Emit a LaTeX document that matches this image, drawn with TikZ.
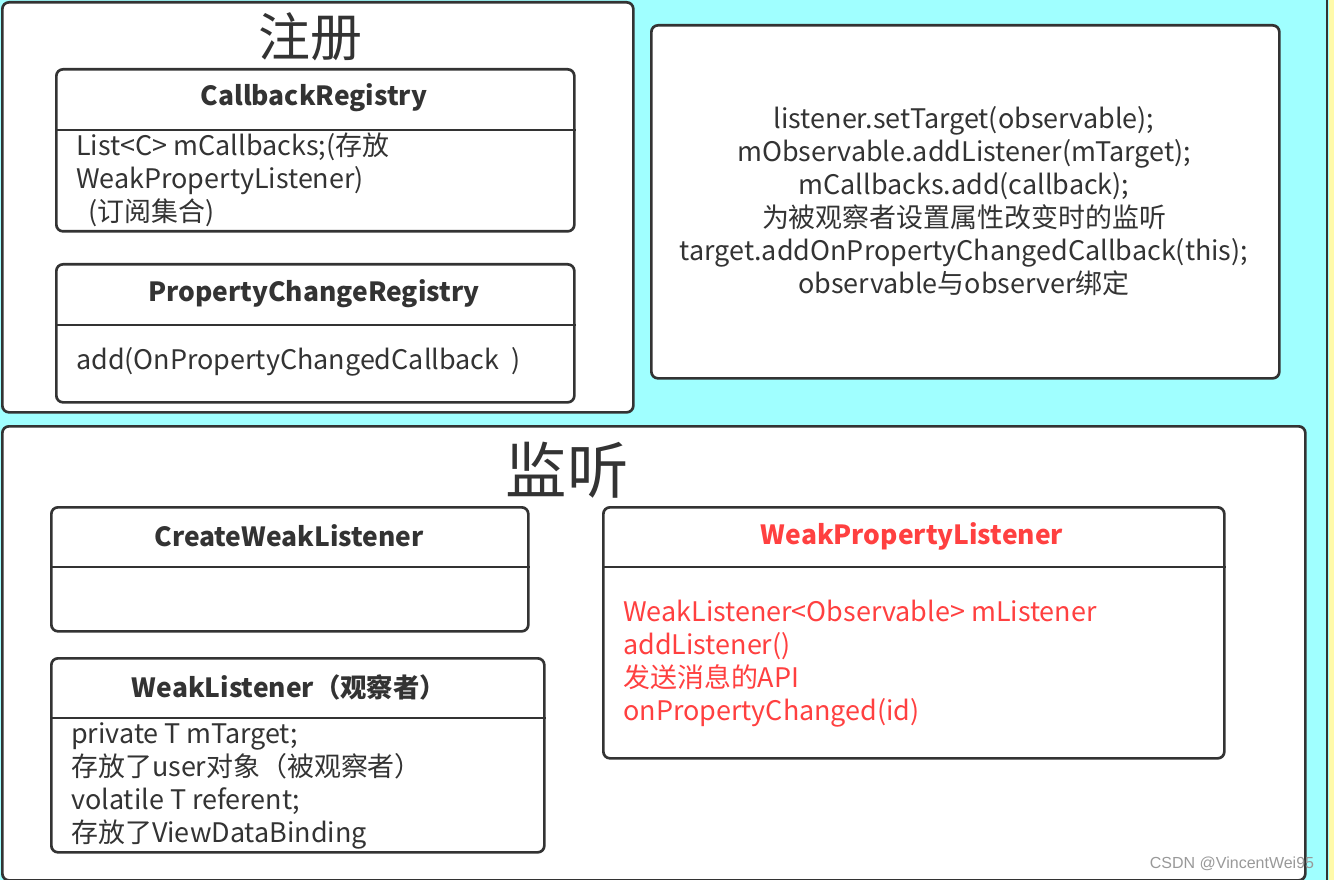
\documentclass[tikz,border=0pt]{standalone}
\usepackage{fontspec}
\setmainfont{Noto Sans CJK SC}
\newfontfamily\wmfont{Liberation Sans}
\definecolor{bgc}{RGB}{160,255,255}
\definecolor{bd}{RGB}{51,51,51}
\definecolor{tx}{RGB}{51,51,51}
\definecolor{rd}{RGB}{255,64,64}
\definecolor{yl}{RGB}{255,250,170}
\tikzset{
  frame/.style={draw=bd, line width=2pt, fill=white, rounded corners=5pt, inner sep=0pt, anchor=north west},
  cls/.style={draw=bd, line width=2pt, fill=white, rounded corners=5pt, inner sep=0pt, anchor=north west},
  divider/.style={draw=bd, line width=2pt},
  head/.style={font=\fontsize{19.8}{22}\selectfont\bfseries, text=tx, inner sep=0pt},
  body/.style={font=\fontsize{20.2}{24.75}\selectfont, text=tx, align=left, anchor=west, inner sep=0pt},
  title/.style={text=tx, inner sep=0pt},
}
\begin{document}
\begin{tikzpicture}[x=0.75pt,y=-0.75pt]
\useasboundingbox (0,0) rectangle (1334,880);
\fill[bgc] (0,0) rectangle (1334,880);
\fill[yl] (1329,0) rectangle (1334,880);
\draw[bd, line width=1.5pt] (1327,0) -- (1327,880);

% ---- top-left frame: 注册
\node[frame, minimum width=473.25pt, minimum height=307.5pt] (reg) at (1,1) {};
\node[title, font=\fontsize{39}{42}\selectfont] (regt) at (310,37) {注册};

\node[cls, minimum width=388.5pt, minimum height=121.5pt] (cb) at (55,68) {};
\draw[divider] (cb.west |- 0,130) -- (cb.east |- 0,130);
\node[head] (cbh) at (314,98) {CallbackRegistry};
\node[body] (cbb) at (76,180) {List<C> mCallbacks;(存放\\WeakPropertyListener)\\\ \ (订阅集合)};

\node[cls, minimum width=388.5pt, minimum height=103.5pt] (pcr) at (55,263) {};
\draw[divider] (pcr.west |- 0,325) -- (pcr.east |- 0,325);
\node[head] (pcrh) at (314,294) {PropertyChangeRegistry};
\node[body] (pcrb) at (76,362) {add(OnPropertyChangedCallback\ \ )};

% ---- top-right note
\node[cls, minimum width=471pt, minimum height=264.75pt] (note) at (650,24) {};
\node[body, align=center, anchor=center] (notet) at (964,201) {listener.setTarget(observable);\\mObservable.addListener(mTarget);\\mCallbacks.add(callback);\\为被观察者设置属性改变时的监听\\target.addOnPropertyChangedCallback(this);\\observable与observer绑定};

% ---- bottom frame: 监听
\node[frame, minimum width=977.25pt, minimum height=340.5pt] (lis) at (1,425) {};
\node[title, font=\fontsize{46}{50}\selectfont] (list) at (567,470) {监听};

\node[cls, minimum width=357.75pt, minimum height=93pt] (cwl) at (50,506) {};
\draw[divider] (cwl.west |- 0,567) -- (cwl.east |- 0,567);
\node[head] (cwlh) at (289,536) {CreateWeakListener};

\node[cls, minimum width=369.75pt, minimum height=145.5pt] (wl) at (50,657) {};
\draw[divider] (wl.west |- 0,718) -- (wl.east |- 0,718);
\node[head] (wlh) at (289,687) {WeakListener（观察者）};
\node[body] (wlb) at (71,786) {private T mTarget;\\存放了user对象（被观察者）\\volatile T referent;\\存放了ViewDataBinding};

\node[cls, minimum width=465.75pt, minimum height=188.25pt] (wpl) at (602,506) {};
\draw[divider] (wpl.west |- 0,567) -- (wpl.east |- 0,567);
\node[head, text=rd] (wplh) at (912,536) {WeakPropertyListener};
\node[body, text=rd] (wplb) at (623,664) {WeakListener<Observable> mListener\\addListener()\\发送消息的API\\onPropertyChanged(id)};

% ---- watermark
\node[font=\wmfont\fontsize{12}{14}\selectfont, text=black!40, inner sep=0pt] (wm) at (1232,864) {CSDN @VincentWei95};
\end{tikzpicture}
\end{document}
